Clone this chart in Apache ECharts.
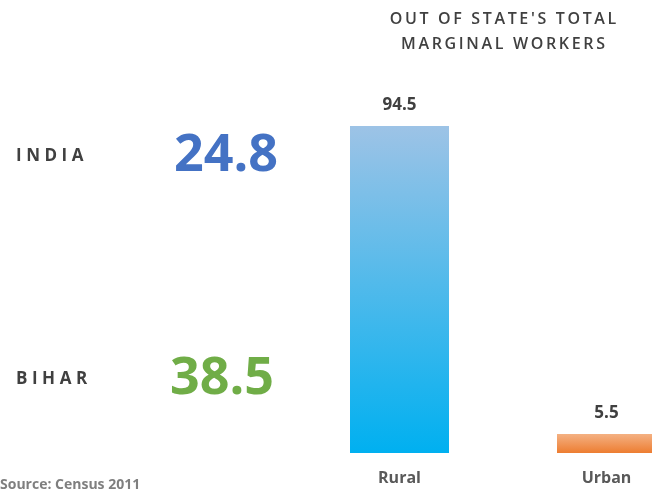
<!DOCTYPE html>
<html>
<head>
<meta charset="utf-8">
<script src="https://cdn.jsdelivr.net/npm/echarts@6/dist/echarts.min.js"></script>
<style>
  html, body { margin: 0; padding: 0; background: #fff; }
  #main { width: 652px; height: 490px; }
</style>
</head>
<body>
<div id="main"></div>
<script>
var myChart = echarts.init(document.getElementById('main'));

// categories and values
var categories = ['Rural', 'Urban'];
var values = [94.5, 5.5];

// share of marginal workers, big numbers on the left
var regions = ['INDIA', 'BIHAR'];
var regionValues = [24.8, 38.5];
var regionColors = ['#4472C4', '#70AD47'];

var titleLines = ["OUT OF STATE'S TOTAL", 'MARGINAL WORKERS'];

// spread letters a bit
function spaced(s, sep) {
  return s.split('').join(sep || '\u2009');
}

var font = '"Open Sans", "Noto Sans", sans-serif';

var barColors = [
  new echarts.graphic.LinearGradient(0, 0, 0, 1, [
    { offset: 0, color: '#9DC3E6' },
    { offset: 1, color: '#00B0F0' }
  ]),
  new echarts.graphic.LinearGradient(0, 0, 0, 1, [
    { offset: 0, color: '#F4B183' },
    { offset: 1, color: '#ED7D31' }
  ])
];

var graphics = [];
var regionY = [156, 379];
var numberX = [174, 170];
for (var i = 0; i < regions.length; i++) {
  graphics.push({
    type: 'text',
    x: 16,
    y: regionY[i],
    style: {
      text: spaced(regions[i], '\u2009\u200A'),
      font: 'bold 17px ' + font,
      fill: '#404040',
      verticalAlign: 'middle'
    }
  });
  graphics.push({
    type: 'text',
    x: numberX[i],
    y: regionY[i],
    style: {
      text: String(regionValues[i]),
      font: 'bold 52px ' + font,
      fill: regionColors[i],
      verticalAlign: 'middle'
    }
  });
}
graphics.push({
  type: 'text',
  x: 0,
  y: 485,
  style: {
    text: 'Source: Census 2011',
    font: 'bold 14px ' + font,
    fill: '#7F7F7F',
    verticalAlign: 'middle'
  }
});
for (var j = 0; j < titleLines.length; j++) {
  graphics.push({
    type: 'text',
    x: 503,
    y: 19 + j * 25,
    style: {
      text: spaced(titleLines[j]),
      font: '600 16px ' + font,
      fill: '#404040',
      align: 'center',
      verticalAlign: 'middle'
    }
  });
}

var option = {
  animation: false,
  grid: {
    left: 296,
    width: 414,
    top: 107,
    bottom: 37,
    outerBoundsMode: 'none'
  },
  xAxis: {
    type: 'category',
    data: categories,
    axisLine: { show: false },
    axisTick: { show: false },
    axisLabel: {
      margin: 17,
      color: '#595959',
      fontFamily: font,
      fontWeight: 'bold',
      fontSize: 16
    }
  },
  yAxis: {
    type: 'value',
    min: 0,
    max: 100,
    show: false,
    splitLine: { show: false }
  },
  graphic: graphics,
  series: [{
    type: 'bar',
    barWidth: 99,
    data: values.map(function (v, k) {
      return { value: v, itemStyle: { color: barColors[k] } };
    }),
    label: {
      show: true,
      position: 'top',
      distance: 12,
      color: '#404040',
      fontFamily: font,
      fontWeight: 'bold',
      fontSize: 17
    }
  }]
};

myChart.setOption(option);
</script>
</body>
</html>
